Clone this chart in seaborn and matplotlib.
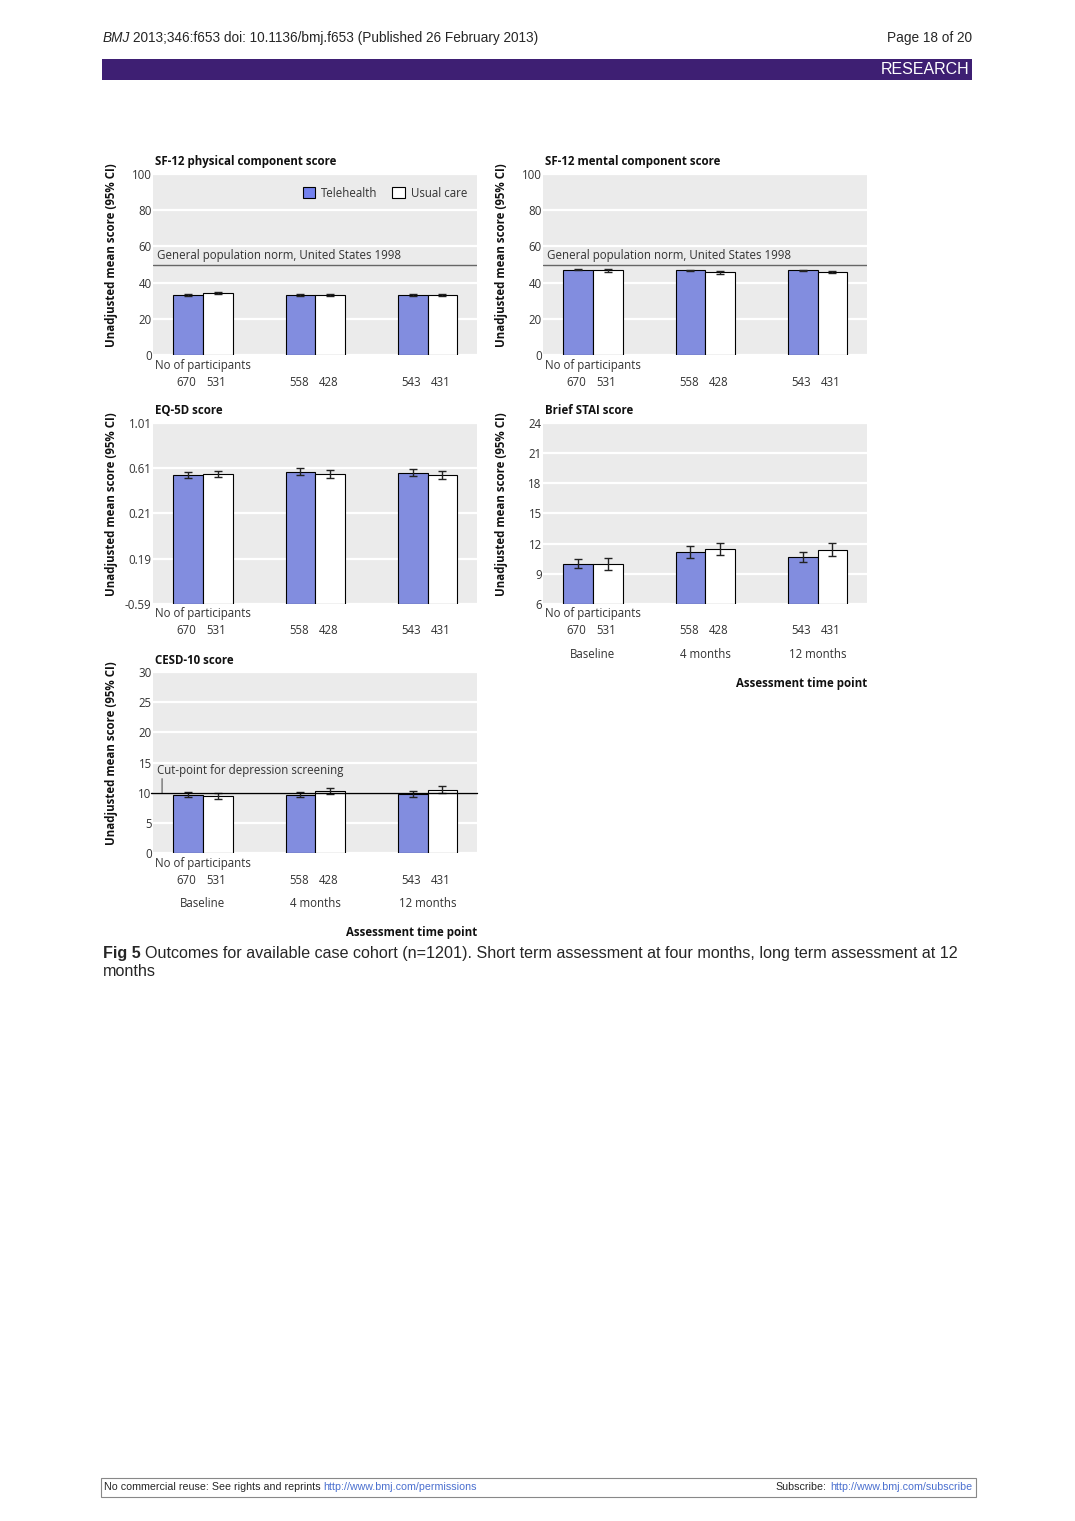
import numpy as np
import pandas as pd
import matplotlib
matplotlib.use('Agg')
import matplotlib.pyplot as plt
from matplotlib.patches import Patch, Rectangle
import seaborn as sns

W, H = 1075, 1521

timepoints = ['Baseline', '4 months', '12 months']
groups = ['Telehealth', 'Usual care']
n_tele = [670, 558, 543]
n_usual = [531, 428, 431]

# SF-12 physical component score
pcs_tele = [33.1, 33.0, 33.1]
pcs_tele_ci = [0.4, 0.6, 0.5]
pcs_usual = [34.4, 33.0, 33.2]
pcs_usual_ci = [0.5, 0.5, 0.5]

# SF-12 mental component score
mcs_tele = [47.2, 46.7, 46.7]
mcs_tele_ci = [0.5, 0.5, 0.5]
mcs_usual = [46.7, 45.6, 45.7]
mcs_usual_ci = [0.7, 0.6, 0.5]

# EQ-5D score
eq_tele = [0.551, 0.578, 0.569]
eq_tele_ci = [0.03, 0.03, 0.03]
eq_usual = [0.560, 0.560, 0.548]
eq_usual_ci = [0.03, 0.035, 0.035]

# Brief STAI score
stai_tele = [10.0, 11.17, 10.7]
stai_tele_ci = [0.45, 0.55, 0.5]
stai_usual = [10.0, 11.5, 11.4]
stai_usual_ci = [0.6, 0.6, 0.65]

# CESD-10 score
cesd_tele = [9.67, 9.67, 9.7]
cesd_tele_ci = [0.4, 0.45, 0.5]
cesd_usual = [9.5, 10.33, 10.5]
cesd_usual_ci = [0.5, 0.5, 0.6]

sf_ticks = [0, 20, 40, 60, 80, 100]
eq_ticks = [-0.59, -0.19, 0.21, 0.61, 1.01]
eq_ticklabels = ['-0.59', '0.19', '0.21', '0.61', '1.01']
stai_ticks = [6, 9, 12, 15, 18, 21, 24]
cesd_ticks = [0, 5, 10, 15, 20, 25, 30]

norm_value = 50
cut_value = 10

TELE_COLOR = '#7381EE'
BG = '#EBEBEB'
TXT = '#333333'
palette = {'Telehealth': TELE_COLOR, 'Usual care': 'white'}

sns.set_style('white')
plt.rcParams['font.family'] = ['Open Sans', 'DejaVu Sans']
FS = 8.3


def axpos(left, top, w, h):
    return [left / W, 1 - (top + h) / H, w / W, h / H]


def px(v):
    # pixels -> points at 100 dpi
    return v * 0.72


def draw_panel(ax, title, tele, tele_ci, usual, usual_ci, ticks, ticklabels=None,
               show_time=False):
    ymin, ymax = ticks[0], ticks[-1]
    df = pd.DataFrame({
        'time': timepoints * 2,
        'group': [groups[0]] * 3 + [groups[1]] * 3,
        'mean': tele + usual,
        'ci': tele_ci + usual_ci,
        'n': n_tele + n_usual,
    })
    df['height'] = df['mean'] - ymin
    sns.barplot(data=df, x='time', y='height', hue='group', order=timepoints,
                hue_order=groups, palette=palette, width=0.53, edgecolor='black',
                linewidth=0.8, errorbar=None, legend=False, bottom=ymin, ax=ax,
                zorder=3)
    ax.set_facecolor(BG)
    ax.set_axisbelow(True)
    ax.yaxis.grid(True, color='white', lw=1.6)
    ax.xaxis.grid(False)
    for s in ax.spines.values():
        s.set_visible(False)
    ax.set_ylim(ymin, ymax)
    ax.set_xlim(-0.445, 2.44)
    ax.set_yticks(ticks)
    ax.set_yticklabels(ticklabels if ticklabels else [str(t) for t in ticks])
    ax.tick_params(axis='both', length=0, labelsize=FS, labelcolor=TXT)
    ax.tick_params(axis='y', pad=1.0)

    for cont, grp in zip(ax.containers, groups):
        sub = df[df['group'] == grp]
        xs = [b.get_x() + b.get_width() / 2 for b in cont]
        ax.errorbar(xs, sub['mean'], yerr=sub['ci'], fmt='none', ecolor='#222222',
                    elinewidth=1.0, capsize=2.8, capthick=1.0, zorder=4)
        for x, n in zip(xs, sub['n']):
            ax.annotate(str(n), xy=(x, 0), xycoords=('data', 'axes fraction'),
                        xytext=(-1, px(-27)), textcoords='offset points',
                        ha='center', va='center', fontsize=FS, color=TXT)

    ax.annotate('No of participants', xy=(0, 0), xycoords='axes fraction',
                xytext=(px(2), px(-10)), textcoords='offset points',
                ha='left', va='center', fontsize=FS, color=TXT)
    ax.annotate(title, xy=(0, 1), xycoords='axes fraction',
                xytext=(px(2), px(12)), textcoords='offset points',
                ha='left', va='center', fontsize=FS, fontweight='bold', color='#111111')

    ax.set_ylabel('Unadjusted mean score (95% CI)', fontsize=FS, fontweight='bold',
                  color='#111111')
    ax.yaxis.set_label_coords(-0.108, 0.55)

    if show_time:
        ax.set_xticks(range(len(timepoints)))
        ax.set_xticklabels(timepoints)
        ax.tick_params(axis='x', pad=px(44))
        ax.set_xlabel('Assessment time point', fontsize=FS, fontweight='bold',
                      color='#111111', ha='right')
        ax.xaxis.set_label_coords(1.0, -0.405)
    else:
        ax.tick_params(axis='x', labelbottom=False)
        ax.set_xlabel('')
    return df


fig = plt.figure(figsize=(W / 100, H / 100), dpi=100)

col_left = [153, 543]
row_top = [174, 423, 672]
AW, AH = 324, 181

ax1 = fig.add_axes(axpos(col_left[0], row_top[0], AW, AH))
draw_panel(ax1, 'SF-12 physical component score', pcs_tele, pcs_tele_ci,
           pcs_usual, pcs_usual_ci, sf_ticks)
ax2 = fig.add_axes(axpos(col_left[1], row_top[0], AW, AH))
draw_panel(ax2, 'SF-12 mental component score', mcs_tele, mcs_tele_ci,
           mcs_usual, mcs_usual_ci, sf_ticks)
ax3 = fig.add_axes(axpos(col_left[0], row_top[1], AW, AH))
draw_panel(ax3, 'EQ-5D score', eq_tele, eq_tele_ci, eq_usual, eq_usual_ci,
           eq_ticks, eq_ticklabels)
ax4 = fig.add_axes(axpos(col_left[1], row_top[1], AW, AH))
draw_panel(ax4, 'Brief STAI score', stai_tele, stai_tele_ci, stai_usual,
           stai_usual_ci, stai_ticks, show_time=True)
ax5 = fig.add_axes(axpos(col_left[0], row_top[2], AW, AH))
draw_panel(ax5, 'CESD-10 score', cesd_tele, cesd_tele_ci, cesd_usual,
           cesd_usual_ci, cesd_ticks, show_time=True)

# reference lines
for ax in (ax1, ax2):
    ax.axhline(norm_value, color='#666666', lw=1.0, zorder=2)
    ax.annotate('General population norm, United States 1998',
                xy=(0, norm_value), xycoords=('axes fraction', 'data'),
                xytext=(px(4), px(9)), textcoords='offset points',
                ha='left', va='center', fontsize=FS, color=TXT)
ax5.axhline(cut_value, xmin=-0.007, xmax=1.0, color='black', lw=1.0, zorder=5,
            clip_on=False)
ax5.annotate('', xy=(0.028, cut_value), xycoords=('axes fraction', 'data'),
             xytext=(0, px(14)), textcoords='offset points',
             arrowprops=dict(arrowstyle='-', color='#555555', lw=0.8,
                             shrinkA=0, shrinkB=0))
ax5.annotate('Cut-point for depression screening',
             xy=(0, cut_value), xycoords=('axes fraction', 'data'),
             xytext=(px(4), px(22)), textcoords='offset points',
             ha='left', va='center', fontsize=FS, color=TXT)

handles = [Patch(facecolor=palette[g], edgecolor='black', lw=0.8, label=g) for g in groups]
ax1.legend(handles=handles, loc='center right', bbox_to_anchor=(0.97, 0.895),
           ncol=2, frameon=False, fontsize=FS, handlelength=1.05, handleheight=1.05,
           handletextpad=0.55, columnspacing=1.3, borderpad=0, borderaxespad=0,
           labelcolor=TXT)

# page furniture
page_font = ['Liberation Sans', 'DejaVu Sans']
renderer = fig.canvas.get_renderer()
HFS = 9.8
t = fig.text(103 / W, 1 - 38 / H, 'BMJ', fontsize=HFS, style='italic',
             family=page_font, va='center', ha='left')
bb = t.get_window_extent(renderer)
fig.text((bb.x1 + 3) / W, 1 - 38 / H,
         '2013;346:f653 doi: 10.1136/bmj.f653 (Published 26 February 2013)',
         fontsize=HFS, family=page_font, va='center', ha='left')
fig.text(972 / W, 1 - 38 / H, 'Page 18 of 20', fontsize=HFS, family=page_font,
         va='center', ha='right')
fig.patches.append(Rectangle((102 / W, 1 - 80 / H), 870 / W, 21 / H,
                             transform=fig.transFigure, facecolor='#3E1F73',
                             edgecolor='none'))
fig.text(969 / W, 1 - 70 / H, 'RESEARCH', fontsize=11.5, family=page_font,
         color='white', va='center', ha='right')

CFS = 11.6
t = fig.text(103 / W, 1 - 953 / H, 'Fig 5', fontsize=CFS, fontweight='bold',
             family=page_font, va='center', ha='left')
bb = t.get_window_extent(renderer)
fig.text((bb.x1 + 4) / W, 1 - 953 / H,
         'Outcomes for available case cohort (n=1201). Short term assessment at '
         'four months, long term assessment at 12',
         fontsize=CFS, family=page_font, va='center', ha='left')
fig.text(103 / W, 1 - 971 / H, 'months', fontsize=CFS, family=page_font,
         va='center', ha='left')

FFS = 7.7
fig.patches.append(Rectangle((101 / W, 1 - 1497 / H), 875 / W, 19 / H,
                             transform=fig.transFigure, facecolor='none',
                             edgecolor='#888888', lw=0.8))
t = fig.text(104 / W, 1 - 1487 / H, 'No commercial reuse: See rights and reprints',
             fontsize=FFS, family=page_font, va='center', ha='left')
bb = t.get_window_extent(renderer)
fig.text((bb.x1 + 3) / W, 1 - 1487 / H, 'http://www.bmj.com/permissions',
         fontsize=FFS, family=page_font, color='#4A6FCF', va='center', ha='left')
t = fig.text(972 / W, 1 - 1487 / H, 'http://www.bmj.com/subscribe',
             fontsize=FFS, family=page_font, color='#4A6FCF', va='center', ha='right')
bb = t.get_window_extent(renderer)
fig.text((bb.x0 - 3) / W, 1 - 1487 / H, 'Subscribe:', fontsize=FFS,
         family=page_font, va='center', ha='right')

fig.savefig('out.png', dpi=100)
